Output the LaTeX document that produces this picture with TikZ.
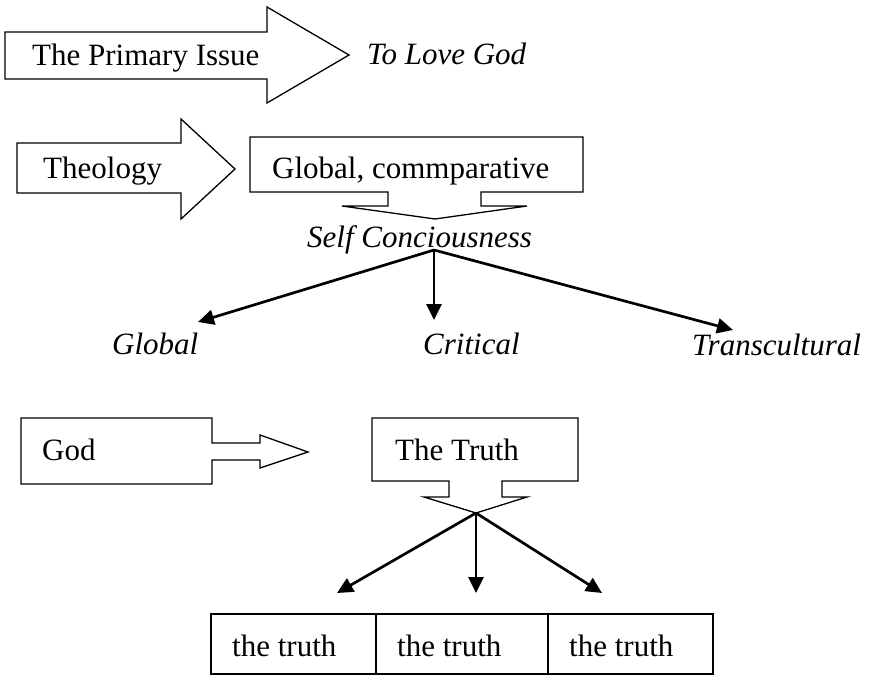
\documentclass[tikz,border=0pt]{standalone}
\usepackage{fontspec}
\setmainfont{Liberation Serif}
\usetikzlibrary{arrows.meta}
\begin{document}
\begin{tikzpicture}[x=1pt,y=-1pt,
  outline/.style={draw=black,line width=1.3pt,line join=miter,fill=white},
  txt/.style={inner sep=0pt,anchor=base west,font=\fontsize{31}{36}\selectfont},
  ital/.style={inner sep=0pt,anchor=base west,font=\fontsize{31}{36}\selectfont\itshape},
  link/.style={line width=2.7pt,-{Triangle[length=16pt,width=15pt]}}]
\useasboundingbox (0,0) rectangle (879,675);

% Block arrow: The Primary Issue
\draw[outline] (5,32) -- (267,32) -- (267,7) -- (349,55) -- (267,103) -- (267,79) -- (5,79) -- cycle;
\node[txt] (primary) at (32,65) {The Primary Issue};
\node[ital] (love) at (367,64) {To Love God};

% Block arrow: Theology
\draw[outline] (17,143) -- (181,143) -- (181,119) -- (235,169) -- (181,219) -- (181,193) -- (17,193) -- cycle;
\node[txt] (theology) at (43,178) {Theology};

% Callout: Global, commparative
\draw[outline] (250,137) -- (583,137) -- (583,192) -- (481,192) -- (481,206) -- (527,206)
  -- (435,219) -- (342,206) -- (388,206) -- (388,192) -- (250,192) -- cycle;
\node[txt] (globalcomp) at (272,178) {Global, commparative};

\node[ital] (self) at (307,247) {Self Conciousness};
\coordinate (sc) at (434,250);
\coordinate (gtip) at (198,322);
\coordinate (ctip) at (434,320);
\coordinate (ttip) at (733,330);
\draw[link] (sc) -- (gtip);
\draw[link] (sc) -- (ctip);
\draw[link] (sc) -- (ttip);
\node[ital] (global) at (112,354) {Global};
\node[ital] (critical) at (423,354) {Critical};
\node[ital] (trans) at (692,355) {Transcultural};

% Block arrow: God
\draw[outline] (21,418) -- (212,418) -- (212,443) -- (260,443) -- (260,435) -- (308,452)
  -- (260,468) -- (260,460) -- (212,460) -- (212,484) -- (21,484) -- cycle;
\node[txt] (god) at (42,460) {God};

% Callout: The Truth
\draw[outline] (372,418) -- (578,418) -- (578,481) -- (502,481) -- (502,497) -- (527,497)
  -- (476,513) -- (424,497) -- (449,497) -- (449,481) -- (372,481) -- cycle;
\node[txt] (truth) at (395,460) {The Truth};

\coordinate (tt) at (476,513);
\coordinate (t1) at (337,593);
\coordinate (t2) at (476,593);
\coordinate (t3) at (602,593);
\draw[link] (tt) -- (t1);
\draw[link] (tt) -- (t2);
\draw[link] (tt) -- (t3);

% Three boxes
\draw[outline] (211,614) rectangle (713,674);
\draw[line width=1.3pt] (376,614) -- (376,674);
\draw[line width=1.3pt] (548,614) -- (548,674);
\node[txt] (b1) at (232,656) {the truth};
\node[txt] (b2) at (397,656) {the truth};
\node[txt] (b3) at (569,656) {the truth};
\end{tikzpicture}
\end{document}
